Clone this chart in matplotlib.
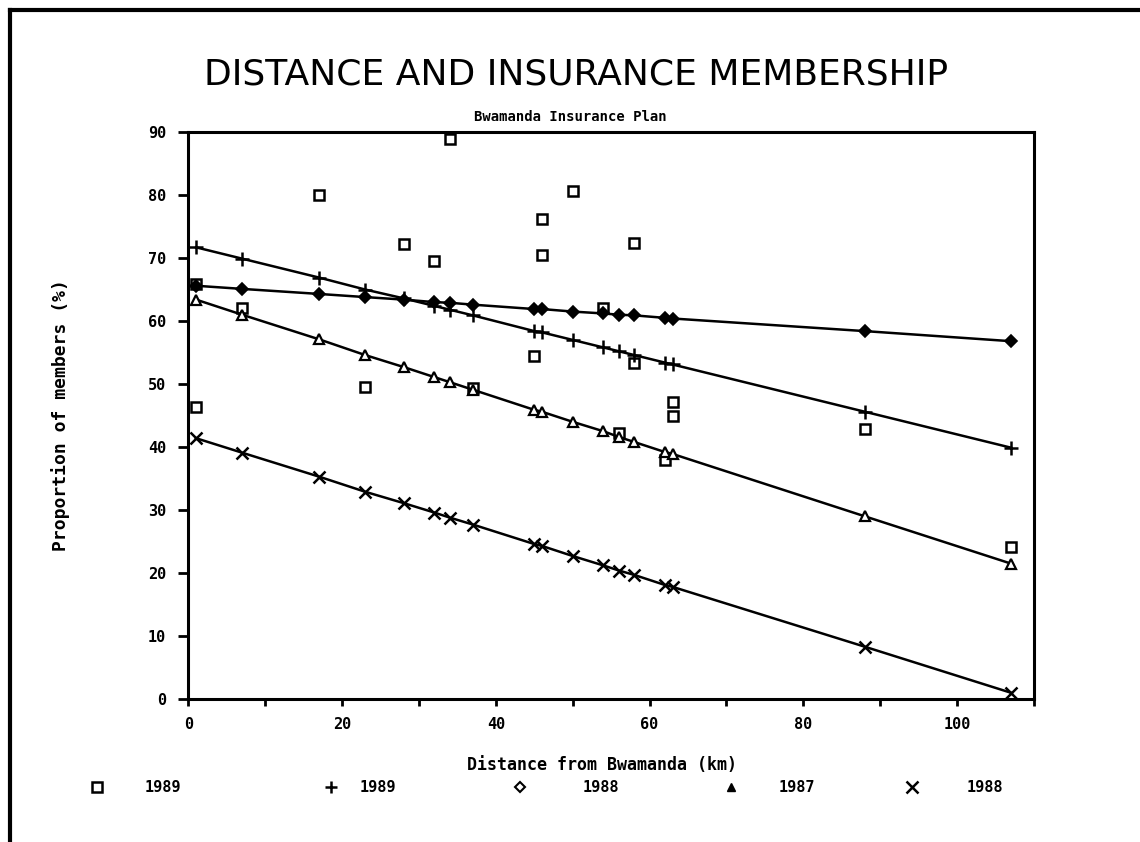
import matplotlib
matplotlib.use("Agg")
import matplotlib.pyplot as plt
from matplotlib.lines import Line2D

# distances (km) of the villages, shared by the fitted lines
dist = [1, 7, 17, 23, 28, 32, 34, 37, 45, 46, 50, 54, 56, 58, 62, 63, 88, 107]

# observed proportions (squares)
obs_x = [1, 1, 7, 17, 23, 28, 32, 34, 37, 45, 46, 46, 50, 54, 56, 58, 58, 63, 63, 62, 88, 107]
obs_y = [46.4, 65.9, 62.0, 80.0, 49.5, 72.2, 69.5, 88.9, 49.3, 54.5, 76.2, 70.5,
         80.7, 62.1, 42.2, 72.4, 53.3, 47.2, 44.9, 37.9, 42.8, 24.2]

# fitted lines
plus_y = [71.7, 69.9, 66.9, 65.0, 63.6, 62.4, 61.8, 60.9, 58.4, 58.2, 57.0, 55.8,
          55.2, 54.6, 53.4, 53.1, 45.6, 39.9]
diam_y = [65.6, 65.1, 64.3, 63.8, 63.4, 63.0, 62.9, 62.6, 61.9, 61.9, 61.5, 61.2,
          61.0, 60.9, 60.5, 60.4, 58.4, 56.8]
tri_y = [63.4, 61.0, 57.1, 54.6, 52.7, 51.1, 50.3, 49.1, 45.9, 45.6, 44.0, 42.5,
         41.6, 40.8, 39.2, 38.9, 29.0, 21.5]
cross_y = [41.4, 39.1, 35.3, 32.9, 31.1, 29.6, 28.8, 27.7, 24.6, 24.3, 22.7, 21.2,
           20.4, 19.7, 18.1, 17.8, 8.3, 1.0]

legend_labels = ["1989", "1989", "1988", "1987", "1988"]

mono = "DejaVu Sans Mono"

fig = plt.figure(figsize=(11.4, 8.42), dpi=100)
ax = fig.add_axes([0.1652, 0.1698, 0.7418, 0.6734])

lw = 1.8
ax.plot(obs_x, obs_y, ls="none", marker="s", ms=7, mfc="white", mec="black", mew=1.8)
ax.plot(dist, plus_y, color="black", lw=lw, marker="+", ms=10, mew=1.8)
ax.plot(dist, diam_y, color="black", lw=lw, marker="D", ms=6, mfc="black", mec="black", mew=1.2)
ax.plot(dist, tri_y, color="black", lw=lw, marker="^", ms=7, mfc="white", mec="black", mew=1.6)
ax.plot(dist, cross_y, color="black", lw=lw, marker="x", ms=9, mew=1.8)

ax.set_xlim(0, 110)
ax.set_ylim(0, 90)
ax.set_xticks([0, 20, 40, 60, 80, 100])
ax.set_xticks([10, 30, 50, 70, 90, 110], minor=True)
ax.set_yticks(range(0, 91, 10))
ax.tick_params(axis="both", which="both", direction="out", width=2, color="black")
ax.tick_params(axis="y", length=7, pad=9)
ax.tick_params(axis="x", which="both", length=5, pad=8)
for lab in ax.get_xticklabels() + ax.get_yticklabels():
    lab.set_fontfamily(mono)
    lab.set_fontweight("bold")
    lab.set_fontsize(11)
for s in ax.spines.values():
    s.set_linewidth(2.2)

ax.set_ylabel("Proportion of members (%)", family=mono, weight="bold", fontsize=13, labelpad=56)
fig.text(0.528, 0.0914, "Distance from Bwamanda (km)", family=mono, weight="bold",
         fontsize=12, ha="center", va="center")

fig.text(0.505, 0.911, "DISTANCE AND INSURANCE MEMBERSHIP", family="DejaVu Sans",
         fontsize=26, ha="center", va="center")
fig.text(0.5, 0.861, "Bwamanda Insurance Plan", family=mono, weight="bold",
         fontsize=10, ha="center", va="center")

# legend row below the axis: marker, then year label
legend_markers = [
    dict(marker="s", ms=7, mfc="white", mec="black", mew=1.8),
    dict(marker="+", ms=8, mec="black", mew=1.8),
    dict(marker="D", ms=5, mfc="white", mec="black", mew=1.5),
    dict(marker="^", ms=6, mfc="black", mec="black"),
    dict(marker="x", ms=8, mec="black", mew=1.8),
]
marker_px = [97, 331, 520, 731, 912]
label_px = [163, 378, 601, 797, 985]
leg_y = 1 - 787 / 842
for mk, mx, lx, txt in zip(legend_markers, marker_px, label_px, legend_labels):
    fig.add_artist(Line2D([mx / 1140], [leg_y], ls="none", transform=fig.transFigure, **mk))
    fig.text(lx / 1140, leg_y, txt, family=mono, weight="bold", fontsize=11,
             ha="center", va="center")

# page border (top and left edges)
fig.add_artist(Line2D([0.009, 1.0], [0.988, 0.988], color="black", lw=3, transform=fig.transFigure))
fig.add_artist(Line2D([0.009, 0.009], [0.0, 0.988], color="black", lw=3, transform=fig.transFigure))

fig.savefig("out.png", dpi=100)
